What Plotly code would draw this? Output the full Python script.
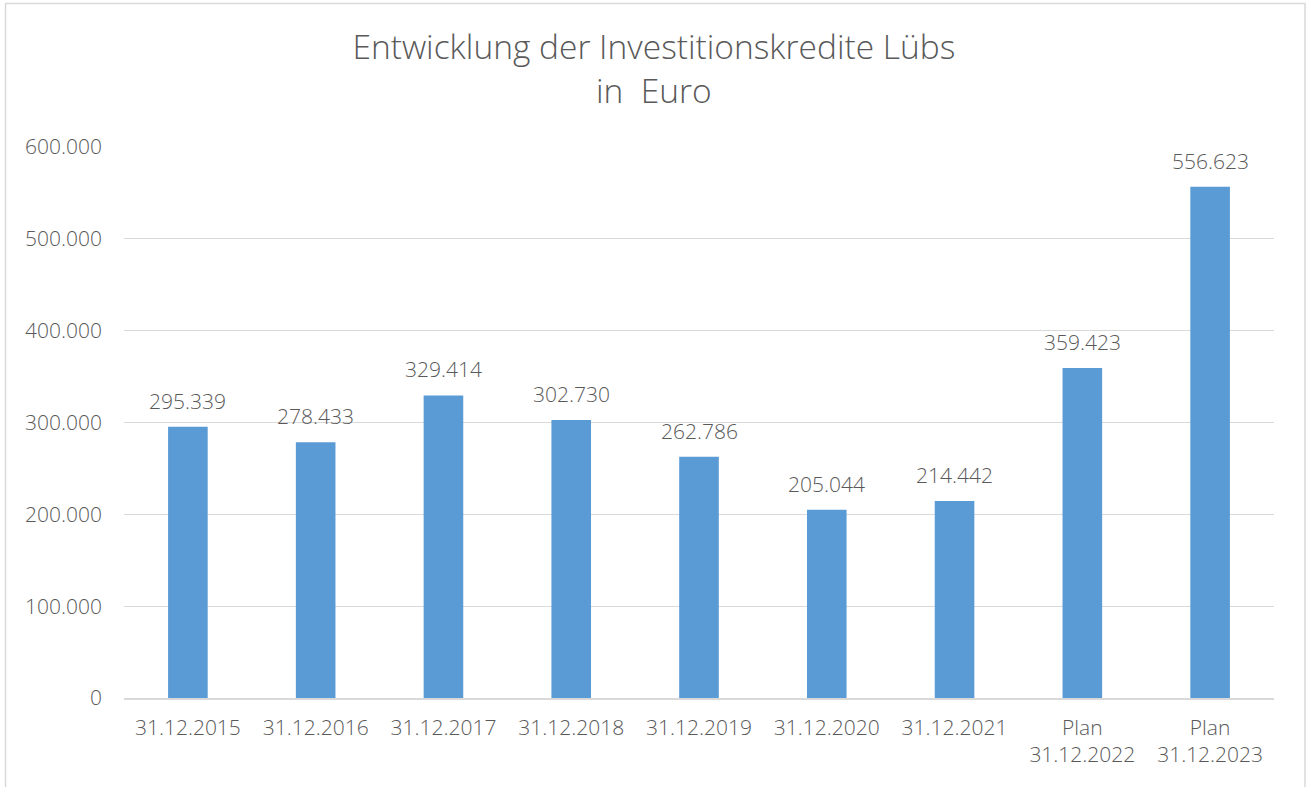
import plotly.graph_objects as go

categories = ["31.12.2015", "31.12.2016", "31.12.2017", "31.12.2018", "31.12.2019",
              "31.12.2020", "31.12.2021", "Plan<br>31.12.2022", "Plan<br>31.12.2023"]
values = [295339, 278433, 329414, 302730, 262786, 205044, 214442, 359423, 556623]
tick_vals = [0, 100000, 200000, 300000, 400000, 500000, 600000]

W, H = 1313, 787
ml, mr, mt, mb = 124, 39, 147, 89
pw, ph = W - ml - mr, H - mt - mb

def px_x(x):
    return (x - ml) / pw

def px_y(y):
    return (H - mb - y) / ph

font_family = "Open Sans, Noto Sans, DejaVu Sans, sans-serif"
gray = "#595959"

fig = go.Figure(go.Bar(
    x=categories, y=values,
    marker=dict(color="#5B9BD5", line=dict(width=0)),
    hoverinfo="x+y",
))

for c, v in zip(categories, values):
    fig.add_annotation(x=c, y=v, text=f"{v:,}".replace(",", "."),
                       showarrow=False, yanchor="bottom", yshift=10,
                       font=dict(size=21, color=gray, family=font_family, weight=300))

fig.update_layout(
    width=W, height=H,
    margin=dict(l=ml, r=mr, t=mt, b=mb),
    paper_bgcolor="white", plot_bgcolor="white",
    separators=",.",
    bargap=0.69,
    showlegend=False,
    title=dict(text="Entwicklung der Investitionskredite Lübs<br>in  Euro",
               x=0.498, xanchor="center", yref="container", y=1 - 59 / H, yanchor="top",
               font=dict(size=33.5, color=gray, family=font_family, weight=300)),
    xaxis=dict(tickfont=dict(size=21, color=gray, family=font_family, weight=300),
               showgrid=False, showline=True, linecolor="#d9d9d9", linewidth=1.5,
               ticks="", ticklabelstandoff=10),
    yaxis=dict(range=[0, 600000], tickvals=tick_vals, tickformat=",d",
               tickfont=dict(size=21, color=gray, family=font_family, weight=300),
               showgrid=True, gridcolor="#d9d9d9", gridwidth=1.3,
               zeroline=False, showline=False, ticks="", ticklabelstandoff=21),
    shapes=[dict(type="rect", xref="paper", yref="paper",
                 x0=px_x(5.5), x1=px_x(1305), y0=px_y(800), y1=px_y(3.5),
                 line=dict(color="#d9d9d9", width=1.5), layer="below")],
)

fig.write_html("out.html", config={"displayModeBar": False},
               post_script="document.body.style.margin='0';")
